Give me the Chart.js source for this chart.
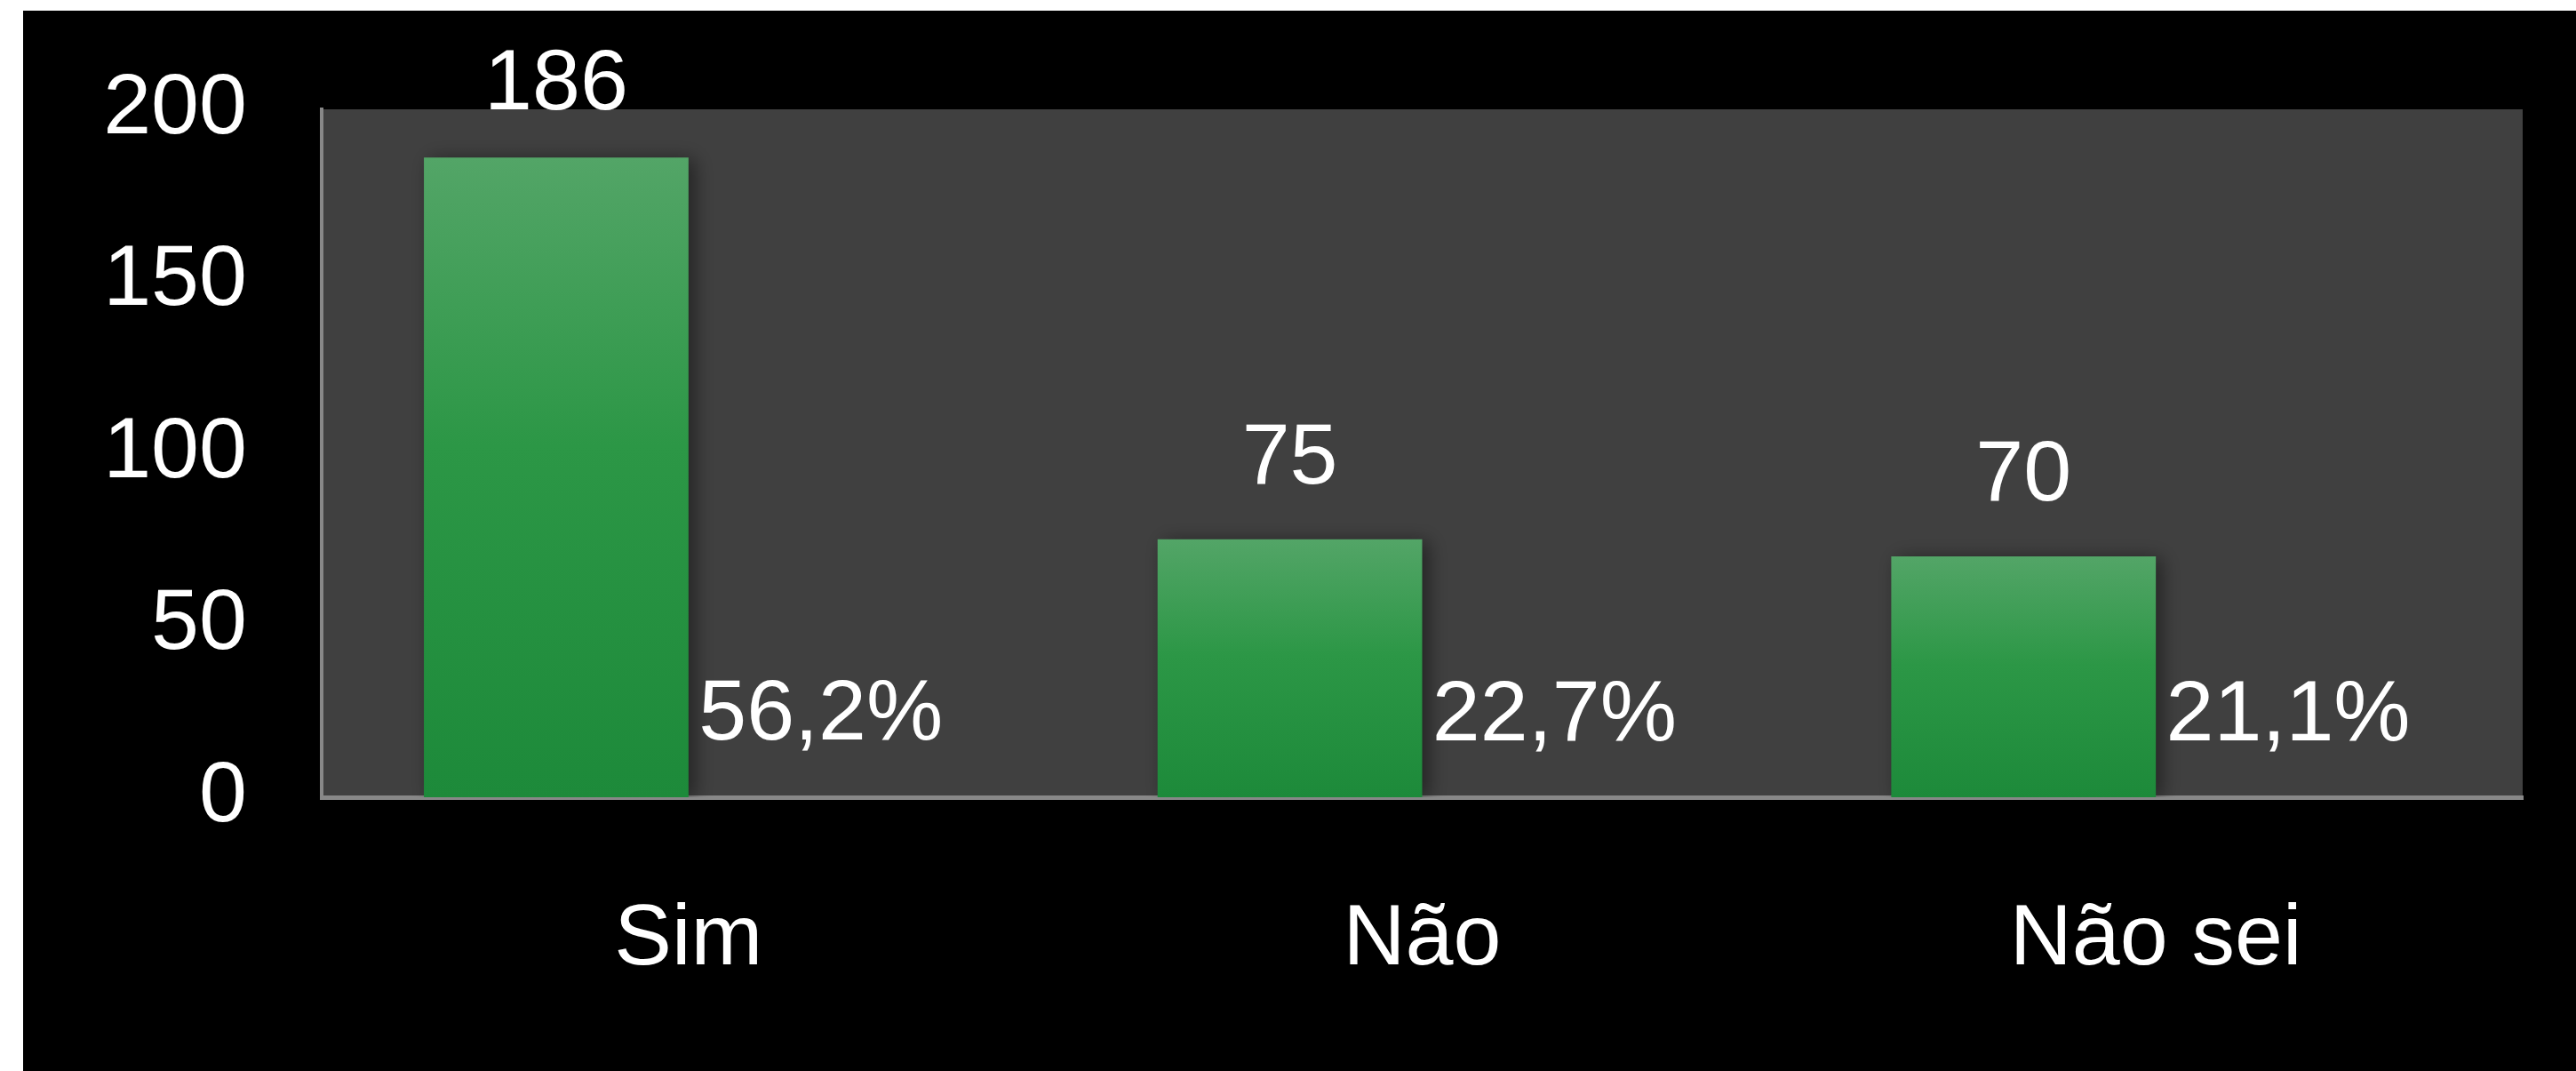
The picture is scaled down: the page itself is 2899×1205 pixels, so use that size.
<!DOCTYPE html>
<html>
<head>
<meta charset="utf-8">
<script src="https://cdn.jsdelivr.net/npm/chart.js@4.4.1/dist/chart.umd.min.js"></script>
<style>
  html, body { margin: 0; padding: 0; background: #000; }
  canvas { display: block; }
</style>
</head>
<body>
<canvas id="respostasChart" width="2899" height="1205"></canvas>
<script>
// dados
const categorias = ['Sim', 'Não', 'Não sei'];
const respostas = [186, 75, 70];
const percentuais = [56.2, 22.7, 21.1];
const yTicks = [0, 50, 100, 150, 200];

Chart.defaults.font.family = "'Liberation Sans', Arial, sans-serif";

// fundo preto com a faixa branca à esquerda/topo e a área de plotagem cinza
const fundoPlugin = {
  id: 'fundo',
  beforeDraw(chart) {
    const { ctx, chartArea, width, height } = chart;
    ctx.save();
    ctx.fillStyle = '#ffffff';
    ctx.fillRect(0, 0, width, height);
    ctx.fillStyle = '#000000';
    ctx.fillRect(26, 12, width - 26, height - 12);
    ctx.fillStyle = '#404040';
    ctx.fillRect(chartArea.left, chartArea.top, chartArea.right - chartArea.left, chartArea.bottom - chartArea.top);
    ctx.restore();
  }
};

// sombra suave nas barras verdes
const sombraPlugin = {
  id: 'sombra',
  beforeDatasetDraw(chart, args) {
    if (args.index !== 0) return;
    const ctx = chart.ctx;
    ctx.save();
    ctx.shadowColor = 'rgba(0, 0, 0, 0.45)';
    ctx.shadowBlur = 20;
    ctx.shadowOffsetX = 7;
    ctx.shadowOffsetY = 2;
  },
  afterDatasetDraw(chart, args) {
    if (args.index !== 0) return;
    chart.ctx.restore();
  }
};

// rótulos de dados (valor e percentual)
const rotulosPlugin = {
  id: 'rotulos',
  afterDatasetsDraw(chart) {
    const { ctx, chartArea } = chart;
    ctx.save();
    ctx.font = "97px 'Liberation Sans', Arial, sans-serif";
    ctx.fillStyle = '#ffffff';
    ctx.textAlign = 'center';
    ctx.textBaseline = 'alphabetic';
    chart.data.datasets.forEach((ds, i) => {
      const meta = chart.getDatasetMeta(i);
      meta.data.forEach((bar, j) => {
        let texto;
        if (i === 0) {
          texto = String(respostas[j]);
        } else {
          texto = percentuais[j].toFixed(1).replace('.', ',') + '%';
        }
        const y = Math.max(bar.y - 63, chartArea.top);
        ctx.fillText(texto, bar.x, y);
      });
    });
    ctx.restore();
  }
};

function gradienteVerde(context) {
  const chart = context.chart;
  if (!chart.chartArea || context.type !== 'data') return '#2C9A47';
  const yScale = chart.scales.y;
  const topo = yScale.getPixelForValue(context.raw);
  const base = yScale.getPixelForValue(0);
  const g = chart.ctx.createLinearGradient(0, topo, 0, base);
  g.addColorStop(0, '#53A567');
  g.addColorStop(0.45, '#2C9746');
  g.addColorStop(1, '#1D8A3A');
  return g;
}

const ctx = document.getElementById('respostasChart');

new Chart(ctx, {
  type: 'bar',
  data: {
    labels: categorias,
    datasets: [
      {
        label: 'Respostas',
        data: respostas,
        backgroundColor: gradienteVerde,
        borderWidth: 0
      },
      {
        label: 'Percentual',
        data: percentuais.map(p => p / 100), // série quase invisível, só leva o rótulo
        backgroundColor: 'rgba(0,0,0,0)',
        borderWidth: 0
      }
    ]
  },
  options: {
    responsive: false,
    animation: false,
    devicePixelRatio: 1,
    categoryPercentage: 0.7213,
    barPercentage: 1,
    layout: {
      padding: { top: 123, right: 60, bottom: 0, left: 0 }
    },
    plugins: {
      legend: { display: false },
      tooltip: { enabled: false }
    },
    scales: {
      x: {
        grid: { display: false, drawTicks: false },
        border: { display: true, color: '#888888', width: 5 },
        ticks: {
          color: '#ffffff',
          font: { size: 97 },
          padding: 103,
          maxRotation: 0
        },
        afterFit(scale) { scale.height = 1205 - 897; }
      },
      y: {
        min: 0,
        max: 200,
        grid: { display: false, drawTicks: false },
        border: { display: true, color: '#888888', width: 4 },
        afterBuildTicks(scale) { scale.ticks = yTicks.map(v => ({ value: v })); },
        ticks: {
          color: '#ffffff',
          // lineHeight baixo só para não empurrar a área do gráfico para baixo
          font: { size: 97, lineHeight: 0.3 },
          padding: 84
        },
        afterFit(scale) { scale.width = 362; }
      }
    }
  },
  plugins: [fundoPlugin, sombraPlugin, rotulosPlugin]
});
</script>
</body>
</html>
